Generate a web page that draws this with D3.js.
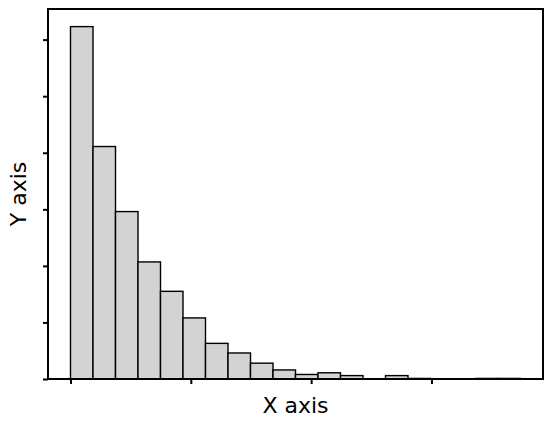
<!DOCTYPE html>
<html>
<head>
<meta charset="utf-8">
<script src="https://cdn.jsdelivr.net/npm/d3@7"></script>
<style>
  html, body { margin: 0; padding: 0; background: #fff; }
  text { font-family: "DejaVu Sans", sans-serif; }
</style>
</head>
<body>
<div id="chart"></div>
<script>
// histogram counts per bin
const counts = [623, 411, 296, 207, 155, 108, 63, 46, 28, 16, 8, 11, 6, 0, 6, 1, 0, 0, 1, 1];
const binStart = 0;
const binWidth = 0.187;
const xTicks = [0, 1, 2, 3];
const yTicks = [0, 100, 200, 300, 400, 500, 600];

const width = 554, height = 427;
const plot = { left: 48, right: 543, top: 9, bottom: 379 };

const bins = counts.map((c, i) => ({
    x0: binStart + i * binWidth,
    x1: binStart + (i + 1) * binWidth,
    count: c
}));

const svg = d3.select("#chart").append("svg")
    .attr("width", width)
    .attr("height", height);

const xMin = binStart, xMax = binStart + counts.length * binWidth;
const pad = (xMax - xMin) * 0.05;
const x = d3.scaleLinear()
    .domain([xMin - pad, xMax + pad])
    .range([plot.left, plot.right]);

const y = d3.scaleLinear()
    .domain([0, d3.max(counts) * 1.05])
    .range([plot.bottom, plot.top]);

svg.append("g")
    .selectAll("rect")
    .data(bins)
    .enter().append("rect")
    .attr("x", d => x(d.x0))
    .attr("y", d => y(d.count))
    .attr("width", d => x(d.x1) - x(d.x0))
    .attr("height", d => y(0) - y(d.count))
    .attr("fill", "#d3d3d3")
    .attr("stroke", "#000")
    .attr("stroke-width", 1.4);

const xAxis = d3.axisBottom(x).tickValues(xTicks).tickSize(5).tickFormat("");
const yAxis = d3.axisLeft(y).tickValues(yTicks).tickSize(5).tickFormat("");

svg.append("g")
    .attr("transform", `translate(0,${plot.bottom})`)
    .call(xAxis)
    .call(g => g.select(".domain").remove())
    .call(g => g.selectAll("line").attr("stroke-width", 2));

svg.append("g")
    .attr("transform", `translate(${plot.left},0)`)
    .call(yAxis)
    .call(g => g.select(".domain").remove())
    .call(g => g.selectAll("line").attr("stroke-width", 2));

// frame
svg.append("rect")
    .attr("x", plot.left)
    .attr("y", plot.top)
    .attr("width", plot.right - plot.left)
    .attr("height", plot.bottom - plot.top)
    .attr("fill", "none")
    .attr("stroke", "#000")
    .attr("stroke-width", 2);

svg.append("text")
    .attr("x", (plot.left + plot.right) / 2)
    .attr("y", 413)
    .attr("text-anchor", "middle")
    .style("font-size", "22px")
    .text("X axis");

svg.append("text")
    .attr("transform", `translate(26,${(plot.top + plot.bottom) / 2}) rotate(-90)`)
    .attr("text-anchor", "middle")
    .style("font-size", "22px")
    .text("Y axis");
</script>
</body>
</html>
